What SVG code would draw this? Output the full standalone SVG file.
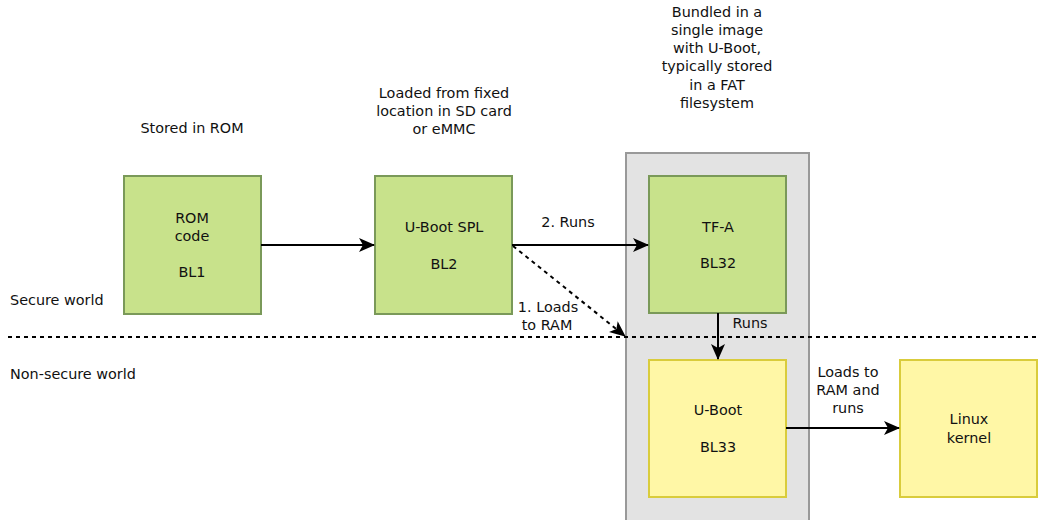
<svg xmlns="http://www.w3.org/2000/svg" width="1038" height="520" viewBox="0 0 1038 520">
<style>
text{font-family:"DejaVu Sans",sans-serif;font-size:14.4px;fill:#111;text-anchor:middle}
.l{text-anchor:start}
.g{fill:#c8e28b;stroke:#7a9959;stroke-width:2}
.y{fill:#fff7a6;stroke:#d9cc3c;stroke-width:2}
.c{fill:#e3e3e3;stroke:#999;stroke-width:2}
.a{fill:none;stroke:#000;stroke-width:2}
.d{fill:none;stroke:#000;stroke-width:2;stroke-dasharray:4 4}
</style>
<defs>
<marker id="ah" viewBox="0 0 16 14" refX="15" refY="7" markerWidth="16" markerHeight="14" markerUnits="userSpaceOnUse" orient="auto">
<path d="M0,0 L16,7 L0,14 L4,7 Z" fill="#000"/>
</marker>
</defs>
<rect class="c" x="626" y="153" width="183" height="370"/>
<line class="d" x1="8" y1="337" x2="1038" y2="337"/>
<text x="192" y="133">Stored in ROM</text>
<g>
<text x="444" y="98">Loaded from fixed</text>
<text x="444" y="116">location in SD card</text>
<text x="444" y="134">or eMMC</text>
</g>
<g>
<text x="717" y="17">Bundled in a</text>
<text x="717" y="35">single image</text>
<text x="717" y="53">with U-Boot,</text>
<text x="717" y="71">typically stored</text>
<text x="717" y="90">in a FAT</text>
<text x="717" y="108">filesystem</text>
</g>
<text class="l" x="10" y="305">Secure world</text>
<text class="l" x="10" y="379">Non-secure world</text>
<g id="rom">
<rect class="g" x="124" y="176" width="137" height="138"/>
<text x="192" y="223">ROM</text>
<text x="192" y="241">code</text>
<text x="192" y="277">BL1</text>
</g>
<g id="spl">
<rect class="g" x="375" y="176" width="137" height="138"/>
<text x="444" y="232">U-Boot SPL</text>
<text x="444" y="269">BL2</text>
</g>
<g id="tfa">
<rect class="g" x="649" y="176" width="137" height="137"/>
<text x="718" y="232">TF-A</text>
<text x="718" y="268">BL32</text>
</g>
<g id="uboot">
<rect class="y" x="649" y="360" width="137" height="137"/>
<text x="718" y="415">U-Boot</text>
<text x="718" y="452">BL33</text>
</g>
<g id="linux">
<rect class="y" x="900" y="360" width="137" height="137"/>
<text x="969" y="424">Linux</text>
<text x="969" y="443">kernel</text>
</g>
<g id="connectors">
<line class="a" x1="261" y1="245" x2="374" y2="245" marker-end="url(#ah)"/>
<line class="a" x1="512" y1="245" x2="648" y2="245" marker-end="url(#ah)"/>
<line class="d" x1="513" y1="246" x2="625" y2="336" marker-end="url(#ah)"/>
<line class="a" x1="718" y1="313" x2="718" y2="359" marker-end="url(#ah)"/>
<line class="a" x1="786" y1="428" x2="899" y2="428" marker-end="url(#ah)"/>
<text x="568" y="227">2. Runs</text>
<text x="548" y="312">1. Loads</text>
<text x="547" y="330">to RAM</text>
<text x="750" y="328">Runs</text>
<text x="848" y="377">Loads to</text>
<text x="848" y="395">RAM and</text>
<text x="848" y="413">runs</text>
</g>
</svg>
